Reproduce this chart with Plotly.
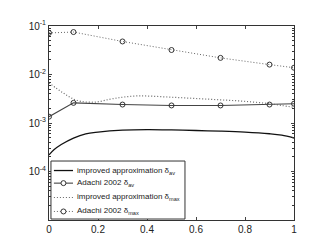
import plotly.graph_objects as go

# data
x_impr_av = [0, 0.02, 0.05, 0.1, 0.15, 0.2, 0.3, 0.4, 0.5, 0.6, 0.7, 0.8, 0.9, 0.95, 1.0]
y_impr_av = [2.2e-4, 2.8e-4, 3.6e-4, 4.9e-4, 6.0e-4, 6.5e-4, 7.1e-4, 7.3e-4, 7.2e-4, 7.0e-4, 6.8e-4, 6.5e-4, 6.0e-4, 5.6e-4, 4.9e-4]

x_adachi = [0, 0.1, 0.3, 0.5, 0.7, 0.9, 1.0]
y_adachi_av = [0.00135, 0.0026, 0.0024, 0.0023, 0.0023, 0.0024, 0.0025]
y_adachi_max = [0.072, 0.075, 0.048, 0.032, 0.022, 0.016, 0.0138]

x_impr_max = [0, 0.03, 0.06, 0.09, 0.13, 0.19, 0.25, 0.3, 0.35, 0.4, 0.5, 0.6, 0.7, 0.8, 0.9, 0.95, 1.0]
y_impr_max = [0.0067, 0.0052, 0.0041, 0.0033, 0.0028, 0.0027, 0.0031, 0.0034, 0.0036, 0.0036, 0.0034, 0.0032, 0.0030, 0.0028, 0.0025, 0.0023, 0.0021]

series_names = ["improved approximation δ<sub>av</sub>", "Adachi 2002 δ<sub>av</sub>",
                "improved approximation δ<sub>max</sub>", "Adachi 2002 δ<sub>max</sub>"]

x_ticks = [0, 0.2, 0.4, 0.6, 0.8, 1]
x_ticktext = ["0", "0.2", "0.4", "0.6", "0.8", "1"]
y_ticks = [1e-4, 1e-3, 1e-2, 1e-1]
y_ticktext = ["10<sup>-4</sup>", "10<sup>-3</sup>", "10<sup>-2</sup>", "10<sup>-1</sup>"]
y_minor = [m * 10.0 ** e for e in range(-5, -1) for m in range(2, 10)]

# styles
styles = [
    dict(color="#111", width=1.3, dash="solid", marker=False),
    dict(color="#444", width=1.1, dash="solid", marker=True),
    dict(color="#666", width=1.2, dash="1px,2px", marker=False),
    dict(color="#666", width=1.0, dash="1px,2px", marker=True),
]

fig = go.Figure()
fig.add_trace(go.Scatter(x=x_impr_av, y=y_impr_av, mode="lines",
                         line=dict(color=styles[0]["color"], width=styles[0]["width"], shape="spline"),
                         name=series_names[0]))
fig.add_trace(go.Scatter(x=x_adachi, y=y_adachi_av, mode="lines+markers",
                         line=dict(color=styles[1]["color"], width=styles[1]["width"]),
                         marker=dict(symbol="circle-open", size=5, color="#333", line=dict(width=1)),
                         name=series_names[1]))
fig.add_trace(go.Scatter(x=x_impr_max, y=y_impr_max, mode="lines",
                         line=dict(color=styles[2]["color"], width=styles[2]["width"], dash=styles[2]["dash"], shape="spline"),
                         name=series_names[2]))
fig.add_trace(go.Scatter(x=x_adachi, y=y_adachi_max, mode="lines+markers",
                         line=dict(color=styles[3]["color"], width=styles[3]["width"], dash=styles[3]["dash"]),
                         marker=dict(symbol="circle-open", size=5, color="#333", line=dict(width=1)),
                         name=series_names[3]))

# compact legend box (paper coords of the plot area)
shapes = [dict(type="rect", xref="paper", yref="paper", x0=0.008, x1=0.555, y0=0.005, y1=0.304,
               line=dict(color="#333", width=1), fillcolor="white", layer="above")]
annotations = []
row_y = [0.255, 0.19, 0.116, 0.044]
for i, (name, st) in enumerate(zip(series_names, styles)):
    yy = row_y[i]
    shapes.append(dict(type="line", xref="paper", yref="paper", x0=0.02, x1=0.098, y0=yy, y1=yy,
                       line=dict(color=st["color"], width=st["width"], dash=st["dash"]), layer="above"))
    if st["marker"]:
        shapes.append(dict(type="circle", xref="paper", yref="paper", xsizemode="pixel", ysizemode="pixel",
                           xanchor=0.059, yanchor=yy, x0=-2.5, x1=2.5, y0=-2.5, y1=2.5,
                           line=dict(color="#333", width=1), fillcolor="white", layer="above"))
    annotations.append(dict(xref="paper", yref="paper", x=0.108, y=yy, xanchor="left", yanchor="middle",
                            text=name, showarrow=False, font=dict(size=8, color="#222")))

fig.update_layout(
    width=316, height=240,
    margin=dict(l=41, r=30, t=18, b=28),
    paper_bgcolor="white", plot_bgcolor="white",
    font=dict(family="Liberation Sans, Arial, sans-serif", color="#222", size=10),
    showlegend=False,
    shapes=shapes, annotations=annotations,
)
fig.update_xaxes(range=[0, 1], tickvals=x_ticks, ticktext=x_ticktext, ticks="inside", ticklen=3,
                 showline=True, linecolor="#333", linewidth=1, mirror="ticks", showgrid=False, zeroline=False,
                 tickfont=dict(size=10))
fig.update_yaxes(type="log", range=[-5, -1], tickvals=y_ticks, ticktext=y_ticktext, ticks="inside", ticklen=3,
                 showline=True, linecolor="#333", linewidth=1, mirror="ticks", showgrid=False, zeroline=False,
                 tickfont=dict(size=10),
                 minor=dict(tickvals=y_minor, ticks="inside", ticklen=2, tickcolor="#333", showgrid=False))

fig.write_html("out.html")
